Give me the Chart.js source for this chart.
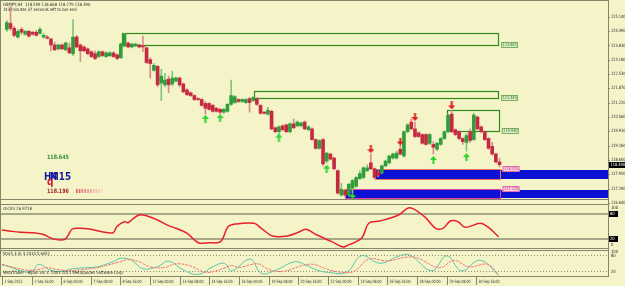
<!DOCTYPE html>
<html>
<head>
<meta charset="utf-8">
<script src="https://cdn.jsdelivr.net/npm/chart.js@4.4.0/dist/chart.umd.min.js"></script>
<style>
html, body { margin: 0; padding: 0; background: #f4f4c8; }
#wrap { position: relative; width: 625px; height: 286px; overflow: hidden; }
canvas { position: absolute; left: 0; top: 0; }
</style>
</head>
<body>
<div id="wrap">
<canvas id="main" width="625" height="286"></canvas>
<canvas id="rsi" width="625" height="286"></canvas>
<canvas id="sto" width="625" height="286"></canvas>
</div>
<script>
// GBPJPY H4 candles, one entry per bar (bar 0 = 1 Sep 2011)
const opens = [124.56,124.83,124.61,124.21,124.56,124.34,124.47,124.43,124.43,124.38,124.21,124.21,124.12,123.85,123.67,123.85,123.63,123.72,123.45,124.21,
  123.85,123.76,123.67,123.54,123.45,123.32,123.54,123.32,123.36,123.49,123.40,123.27,123.81,123.94,123.76,123.81,123.85,123.81,123.72,123.18,
  122.69,122.87,122.11,122.03,122.29,122.07,122.20,122.34,122.07,121.80,121.67,121.54,121.40,121.36,121.18,121.18,121.09,120.96,120.91,120.78,
  120.82,121.14,121.22,121.36,121.27,121.22,121.40,121.31,121.40,121.09,120.78,120.69,120.82,120.07,119.89,120.16,120.20,119.89,120.25,120.16,
  120.16,120.33,119.98,120.02,119.53,119.13,119.53,118.55,118.87,118.69,118.11,117.00,117.22,117.00,117.31,117.40,117.75,117.80,118.11,118.47,
  118.20,118.06,118.02,118.33,118.47,118.69,118.69,119.09,118.78,119.89,120.33,120.02,119.84,119.76,119.76,119.36,119.31,119.09,119.31,119.58,
  119.89,120.69,119.98,119.89,119.58,119.40,119.89,119.53,120.56,120.11,119.89,119.58,119.22,118.87,118.509];
const highs = [124.96,125.59,124.70,124.56,124.65,124.52,124.52,124.47,124.52,124.65,124.38,124.29,124.16,123.98,123.89,123.89,123.98,123.94,125.01,124.29,
  123.89,123.81,123.72,123.58,123.58,123.58,123.58,123.54,123.54,123.54,123.45,123.94,124.38,123.98,123.94,123.94,123.89,124.25,123.76,123.27,
  123.00,122.92,122.74,122.56,122.43,122.65,122.38,122.38,122.11,121.85,121.71,121.58,121.45,121.40,121.27,121.22,121.14,121.00,120.96,120.96,
  121.18,122.25,121.54,121.40,121.40,121.40,121.45,121.49,121.45,121.14,120.82,121.00,120.87,120.11,120.16,120.20,120.25,120.29,120.47,120.38,
  120.33,120.38,120.16,120.07,119.58,119.53,119.58,118.95,118.91,118.73,118.15,117.53,117.26,117.53,117.71,117.84,118.11,118.29,118.38,118.87,
  118.24,118.11,118.38,118.60,118.82,118.91,119.00,119.22,119.93,120.25,120.47,120.33,119.89,119.80,119.80,119.80,119.44,119.40,119.62,119.93,
  120.69,120.87,120.02,119.93,119.62,119.80,120.02,120.73,120.60,120.16,119.93,119.62,119.40,118.91,118.668];
const lows = [124.47,124.52,124.21,124.16,124.34,124.29,124.21,124.29,124.25,124.34,124.16,124.12,123.58,123.58,123.63,123.63,123.58,123.45,123.36,123.72,
  123.09,123.54,123.40,123.27,123.18,123.27,123.32,123.27,123.32,123.27,123.18,123.23,123.76,123.72,123.72,123.76,123.72,123.54,123.00,122.34,
  122.65,121.94,121.31,121.94,121.67,121.98,122.16,121.94,121.67,121.54,121.49,121.31,121.31,121.05,120.69,120.87,120.78,120.78,120.69,120.73,
  120.78,121.09,121.18,121.22,121.22,121.18,120.78,121.27,121.09,120.69,120.69,120.65,119.98,119.84,119.76,119.93,119.84,119.84,120.02,120.11,
  120.11,119.98,119.93,119.49,119.09,119.09,118.33,118.47,118.60,118.15,117.04,116.95,116.91,116.95,117.09,117.35,117.71,117.75,118.06,118.15,
  117.75,117.84,117.98,118.29,118.42,118.64,118.64,118.82,118.73,119.84,119.98,119.62,119.62,119.31,119.27,119.31,118.87,119.04,119.27,119.53,
  119.84,119.84,119.71,119.53,119.31,119.00,119.40,119.49,119.98,119.84,119.49,119.09,118.82,118.47,118.279];
const closes = [124.87,124.61,124.29,124.47,124.43,124.47,124.25,124.34,124.29,124.56,124.29,124.16,123.85,123.63,123.85,123.67,123.94,123.49,124.21,123.76,
  123.58,123.58,123.45,123.32,123.23,123.54,123.36,123.49,123.49,123.32,123.23,123.89,124.34,123.76,123.89,123.89,123.76,123.76,123.05,123.00,
  122.92,122.03,122.43,122.25,122.03,122.34,122.34,122.03,121.71,121.58,121.54,121.36,121.36,121.09,120.96,120.91,120.82,120.82,120.78,120.91,
  121.14,121.54,121.49,121.27,121.36,121.36,121.22,121.45,121.14,120.73,120.73,120.87,120.02,119.89,120.11,119.98,119.89,120.25,120.07,120.33,
  120.29,120.02,120.11,119.53,119.13,119.49,118.42,118.91,118.64,118.20,117.09,117.26,117.00,117.49,117.66,117.80,117.98,118.24,118.24,118.20,
  117.80,117.89,118.33,118.55,118.78,118.87,118.91,118.87,119.89,120.20,120.02,119.67,119.67,119.36,119.31,119.76,119.18,119.36,119.58,119.89,
  120.65,119.89,119.76,119.58,119.44,119.71,119.49,120.65,120.02,119.89,119.53,119.13,118.87,118.51,118.390];

// signal arrows (bar index, price)
const buyIdx = [54, 58, 74, 87, 94, 116, 125];
const buyPrice = [120.47, 120.51, 119.62, 118.20, 116.91, 118.60, 118.73];
const sellIdx = [99, 107, 111, 121];
const sellPrice = [119.09, 119.44, 120.56, 121.09];

// supply zones (green rectangles)
const supplyStart = [31.3, 67.2, 119.8];
const supplyEnd = [133.6, 133.6, 133.8];
const supplyTop = [124.38, 121.76, 120.87];
const supplyBottom = [123.85, 121.45, 119.93];
const supplyTags = ['123.845', '121.449', '119.930'];

// demand zones (blue rectangles, extended to the right edge)
const demandStart = [100.1, 92.0];
const demandEnd = [134, 134];
const demandTop = [118.15, 117.22];
const demandBottom = [117.75, 116.86];
const demandTags = ['118.155', '117.220'];

// price axis labels
const priceTicks = ['125.140', '124.490', '123.830', '123.180', '122.530', '121.870', '121.220',
  '120.560', '119.910', '119.260', '118.600', '117.950', '117.290', '116.640'];
const lastPrice = 118.390;

// time axis labels, every 8 bars
const dateIdx = [0, 8, 16, 24, 32, 40, 48, 56, 64, 72, 80, 88, 96, 104, 112, 120, 128];
const dateLabels = ['1 Sep 2011', '2 Sep 16:00', '6 Sep 00:00', '7 Sep 08:00', '8 Sep 16:00', '12 Sep 00:00',
  '13 Sep 08:00', '14 Sep 16:00', '16 Sep 00:00', '19 Sep 08:00', '20 Sep 16:00', '22 Sep 00:00',
  '23 Sep 08:00', '26 Sep 16:00', '28 Sep 00:00', '29 Sep 08:00', '30 Sep 16:00'];

// RSI(10)
const rsiIdx = [0, 2, 5, 8, 11, 14, 17, 19, 21, 24, 27, 30, 31, 33, 34, 35, 37, 39, 42, 45, 47, 50, 53, 56, 59, 61, 63,
  68, 70, 73, 77, 80, 82, 85, 89, 92, 93, 97, 99, 102, 107, 110, 114, 117, 119, 121, 123, 125, 129, 131, 134];
const rsiVal = [41.9, 39.5, 36.5, 35.6, 31.9, 20.9, 20.2, 44.2, 45.8, 43.5, 37.9, 35.6, 49.5, 61.2, 58.8, 65.1, 76.7, 75.1,
  65.1, 51.9, 45.8, 34.2, 12.3, 12.3, 14.7, 49.5, 55.8, 57.4, 45.8, 27.9, 27.9, 36.5, 43.5, 30.2, 14.7, 2.3, 5.3, 22.6,
  57.4, 62.8, 76.7, 93.7, 72.8, 45.8, 45.8, 62.8, 61.2, 48.1, 57.4, 49.5, 26.3];

// Stochastic(5,3,3)
const stoIdx = [0, 2, 5, 8, 10, 13, 16, 19, 23, 26, 30, 32, 35, 38, 42, 45, 49, 53, 57, 60, 62, 67, 70, 74, 79, 82, 85,
  88, 93, 97, 102, 107, 110, 116, 120, 124, 129, 134];
const stoMain = [42, 36, 20, 17, 45, 23, 17, 28, 32, 36, 55, 68, 61, 28, 36, 57, 23, 6, 36, 49, 20, 65, 10, 23, 55, 42, 23,
  14, 14, 78, 49, 76, 81, 20, 78, 20, 61, 3.2];
const sigIdx = [0, 4, 7, 10, 12, 15, 18, 21, 25, 28, 32, 34, 37, 40, 44, 47, 51, 55, 59, 62, 64, 69, 72, 76, 81, 84, 87,
  91, 95, 99, 104, 109, 112, 118, 122, 126, 131, 134];
const stoSignal = [45, 30, 22, 25, 32, 25, 20, 24, 30, 40, 55, 63, 55, 35, 33, 47, 38, 14, 25, 40, 33, 47, 25, 18, 40, 45, 30,
  15, 18, 65, 58, 72, 70, 32, 60, 35, 45, 5.6];

const X_MIN = -0.5, X_MAX = 163.5;
const FONT = '4.4px "DejaVu Sans"';
const LINE = '#85856c';

function arrowImg(color, up) {
  const c = document.createElement('canvas');
  c.width = 7; c.height = 8;
  const g = c.getContext('2d');
  g.fillStyle = color;
  g.beginPath();
  if (up) { g.moveTo(3.5, 0); g.lineTo(7, 4); g.lineTo(0, 4); }
  else { g.moveTo(3.5, 8); g.lineTo(7, 4); g.lineTo(0, 4); }
  g.fill();
  g.fillRect(2.5, up ? 4 : 0, 2, 4);
  return c;
}

const common = {
  responsive: false,
  animation: false,
  devicePixelRatio: 1,
  events: [],
  plugins: { legend: { display: false }, tooltip: { enabled: false } }
};
const xAxis = { type: 'linear', min: X_MIN, max: X_MAX, display: false, offset: false };

// text drawn slightly condensed, like the small terminal font
function txt(ctx, s, x, y, color, font, sx) {
  ctx.save();
  ctx.font = font || FONT;
  ctx.fillStyle = color || '#2a2a2a';
  ctx.textAlign = 'left';
  ctx.textBaseline = 'middle';
  ctx.translate(x, y);
  ctx.scale(sx || 0.85, 1);
  ctx.fillText(s, 0, 0);
  ctx.restore();
}
function hline(ctx, y, x0, x1, color, w) {
  ctx.strokeStyle = color; ctx.lineWidth = w || 1;
  ctx.beginPath(); ctx.moveTo(x0, y); ctx.lineTo(x1, y); ctx.stroke();
}

const mainDecor = {
  id: 'mainDecor',
  beforeDatasetsDraw(chart) {
    const { ctx, scales: { x, y } } = chart;
    ctx.save();
    const outline = ['#f07060', '#e040a0'];
    demandTop.forEach((top, k) => {
      const x0 = Math.round(x.getPixelForValue(demandStart[k]));
      const x1 = Math.round(x.getPixelForValue(demandEnd[k]));
      const xe = x.getPixelForValue(X_MAX);
      const y0 = Math.round(y.getPixelForValue(top));
      const y1 = Math.round(y.getPixelForValue(demandBottom[k]));
      ctx.fillStyle = '#0c12d4';
      ctx.fillRect(x0, y0, xe - x0, y1 - y0);
      ctx.strokeStyle = outline[k]; ctx.lineWidth = 1;
      ctx.strokeRect(x0 + 0.5, y0 - 0.5, x1 - x0, y1 - y0 + 1);
    });
    supplyTop.forEach((top, k) => {
      const x0 = Math.round(x.getPixelForValue(supplyStart[k]));
      const x1 = Math.round(x.getPixelForValue(supplyEnd[k]));
      const y0 = Math.round(y.getPixelForValue(top));
      const y1 = Math.round(y.getPixelForValue(supplyBottom[k]));
      ctx.strokeStyle = '#2f8a1c'; ctx.lineWidth = 1.2;
      ctx.strokeRect(x0 + 0.5, y0 + 0.5, x1 - x0, y1 - y0);
    });
    ctx.restore();
  },
  afterDatasetsDraw(chart) {
    const { ctx, scales: { x, y } } = chart;
    ctx.save();
    // zone price tags
    supplyTags.forEach((s, k) => {
      const px = x.getPixelForValue(supplyEnd[k]) + 3;
      const py = Math.round(y.getPixelForValue(supplyBottom[k]));
      ctx.fillStyle = '#dcecc4'; ctx.fillRect(px, py - 3, 17, 6);
      ctx.strokeStyle = '#7ab060'; ctx.lineWidth = 1; ctx.strokeRect(px + 0.5, py - 2.5, 16, 5);
      txt(ctx, s, px + 1.5, py + 0.3, '#3b7a2a', null, 0.78);
    });
    demandTags.forEach((s, k) => {
      const px = x.getPixelForValue(demandEnd[k]) + 3;
      const py = Math.round(y.getPixelForValue(demandTop[k])) - 1;
      ctx.fillStyle = '#f6d2dc'; ctx.fillRect(px, py - 3, 17, 6);
      ctx.strokeStyle = '#e070a8'; ctx.lineWidth = 1; ctx.strokeRect(px + 0.5, py - 2.5, 16, 5);
      txt(ctx, s, px + 1.5, py + 0.3, '#d02a80', null, 0.78);
    });
    // header
    txt(ctx, 'GBPJPY,H4  118.509 118.668 118.279 118.390', 3, 4.5);
    txt(ctx, '143 minutes 37 seconds left to bar end', 3, 10);
    // multi timeframe info block
    txt(ctx, '118.645', 47, 157, '#2f8f2f', 'bold 6px "DejaVu Sans"', 0.8);
    txt(ctx, 'H4', 44, 177, '#1a1aa0', 'bold 11px "DejaVu Sans"', 0.8);
    txt(ctx, 'M15', 50, 177, '#1a1aa0', 'bold 11px "DejaVu Sans"', 0.8);
    txt(ctx, 'q', 47, 182, '#d01830', 'bold 10px "DejaVu Sans"', 0.9);
    txt(ctx, '118.196', 47, 191, '#a02828', 'bold 6px "DejaVu Sans"', 0.8);
    const fade = ['#e85a5a', '#ea6868', '#ec7676', '#ee8484', '#f09292', '#f2a0a0', '#f4aeae', '#f4bcb8', '#f4cac0', '#f4d6c6'];
    fade.forEach((c, k) => { ctx.fillStyle = c; ctx.fillRect(76 + k * 2.8, 189, 1.6, 4); });
    // price axis
    priceTicks.forEach(s => {
      const py = y.getPixelForValue(parseFloat(s));
      hline(ctx, Math.round(py) + 0.5, 608, 610, LINE);
      txt(ctx, s, 611, py, null, null, 0.8);
    });
    const lp = Math.round(y.getPixelForValue(lastPrice));
    ctx.fillStyle = '#000'; ctx.fillRect(609, lp - 3, 16, 6);
    txt(ctx, '118.390', 610.5, lp + 0.3, '#ffffff', null, 0.8);
    // frame
    ctx.strokeStyle = LINE; ctx.lineWidth = 1;
    ctx.beginPath();
    ctx.moveTo(608.5, 0); ctx.lineTo(608.5, 277);
    ctx.moveTo(0.5, 0); ctx.lineTo(0.5, 277);
    ctx.moveTo(0, 0.5); ctx.lineTo(608, 0.5);
    ctx.stroke();
    hline(ctx, 199.5, 0, 608, LINE);
    ctx.restore();
  }
};

const upBar = opens.map((o, i) => closes[i] >= o);
const bars = opens.map((o, i) => i);

new Chart(document.getElementById('main'), {
  type: 'bar',
  data: {
    datasets: [
      { type: 'line', showLine: false, data: buyIdx.map((b, k) => ({ x: b, y: buyPrice[k] })),
        pointStyle: arrowImg('#2ed22e', true) },
      { type: 'line', showLine: false, data: sellIdx.map((b, k) => ({ x: b, y: sellPrice[k] })),
        pointStyle: arrowImg('#e01a1a', false) },
      { data: bars.map(i => ({ x: i, y: [opens[i], closes[i]] })),
        backgroundColor: upBar.map(u => u ? '#2f9e3a' : '#c42a40'),
        barThickness: 3, grouped: false, minBarLength: 1 },
      { data: bars.map(i => ({ x: i, y: [lows[i], highs[i]] })),
        backgroundColor: upBar.map(u => u ? '#82c47a' : '#dc8a8e'),
        barThickness: 1, grouped: false }
    ]
  },
  options: {
    ...common,
    layout: { padding: { left: 0, right: 17, top: 0, bottom: 87 } },
    scales: { x: xAxis, y: { min: 116.818, max: 125.674, display: false } }
  },
  plugins: [mainDecor]
});

// RSI window
new Chart(document.getElementById('rsi'), {
  type: 'line',
  data: {
    datasets: [{ data: rsiIdx.map((b, k) => ({ x: b, y: rsiVal[k] })), borderColor: '#e8202a',
      borderWidth: 1.5, pointRadius: 0, tension: 0.35 }]
  },
  options: {
    ...common,
    layout: { padding: { left: 0, right: 17, top: 205, bottom: 38 } },
    scales: { x: xAxis, y: { min: 0, max: 100, display: false } }
  },
  plugins: [{
    id: 'rsiDecor',
    beforeDatasetsDraw(chart) {
      const { ctx, scales: { y } } = chart;
      ctx.save();
      hline(ctx, 204.5, 0, 608, LINE);
      hline(ctx, 248.5, 0, 608, LINE);
      [80, 20].forEach(v => hline(ctx, Math.round(y.getPixelForValue(v)), 0, 608, '#8e8e76', 1.6));
      ctx.restore();
    },
    afterDraw(chart) {
      const { ctx, scales: { y } } = chart;
      ctx.save();
      txt(ctx, 'rsi(10) 26.9718', 3, 209);
      txt(ctx, '100', 611, y.getPixelForValue(100) + 3);
      txt(ctx, '0', 611, y.getPixelForValue(0) - 3);
      [80, 20].forEach(v => {
        const py = Math.round(y.getPixelForValue(v));
        ctx.fillStyle = '#000'; ctx.fillRect(609, py - 3, 9, 6);
        txt(ctx, String(v), 610, py + 0.3, '#ffffff');
      });
      ctx.restore();
    }
  }]
});

// Stochastic window
new Chart(document.getElementById('sto'), {
  type: 'line',
  data: {
    datasets: [
      { data: sigIdx.map((b, k) => ({ x: b, y: stoSignal[k] })), borderColor: '#f07878',
        borderWidth: 1, pointRadius: 0, tension: 0.4, borderDash: [3, 1] },
      { data: stoIdx.map((b, k) => ({ x: b, y: stoMain[k] })), borderColor: '#5cc4aa',
        borderWidth: 1, pointRadius: 0, tension: 0.4 }
    ]
  },
  options: {
    ...common,
    layout: { padding: { left: 0, right: 17, top: 250, bottom: 10 } },
    scales: { x: xAxis, y: { min: 0, max: 100, display: false } }
  },
  plugins: [{
    id: 'stoDecor',
    beforeDatasetsDraw(chart) {
      const { ctx, scales: { y } } = chart;
      ctx.save();
      hline(ctx, 250.5, 0, 608, LINE);
      ctx.setLineDash([1, 2]);
      [80, 20].forEach(v => hline(ctx, Math.round(y.getPixelForValue(v)) + 0.5, 0, 608, '#8e8e76'));
      ctx.restore();
    },
    afterDraw(chart) {
      const { ctx, scales: { x, y } } = chart;
      ctx.save();
      txt(ctx, 'Sto(5,3,3) 3.2010 5.6051', 3, 254);
      txt(ctx, '100', 611, y.getPixelForValue(100) + 1.5);
      txt(ctx, '80', 611, y.getPixelForValue(80) + 0.5);
      txt(ctx, '20', 611, y.getPixelForValue(20) + 1);
      txt(ctx, 'MetaTrader - Alpari UK \u00a9 2001-2011 MetaQuotes Software Corp.', 3, 272.5);
      hline(ctx, 276.5, 0, 609, LINE);
      dateIdx.forEach((b, k) => {
        const px = Math.round(x.getPixelForValue(b)) + 0.5;
        ctx.strokeStyle = LINE; ctx.lineWidth = 1;
        ctx.beginPath(); ctx.moveTo(px, 277); ctx.lineTo(px, 285); ctx.stroke();
        txt(ctx, dateLabels[k], px + 2, 281.5, null, null, 0.72);
      });
      ctx.restore();
    }
  }]
});
</script>
</body>
</html>
